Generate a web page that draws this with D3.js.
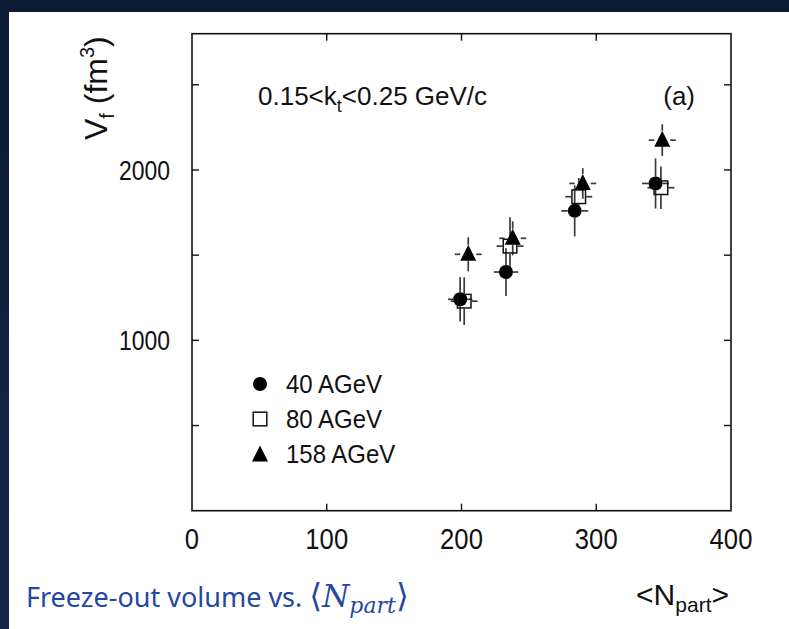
<!DOCTYPE html>
<html>
<head>
<meta charset="utf-8">
<script src="https://cdn.jsdelivr.net/npm/d3@7/dist/d3.min.js"></script>
<style>
  html, body { margin: 0; padding: 0; background: #0f1e3a; }
  svg { display: block; }
</style>
</head>
<body>
<svg id="chart" width="789" height="629"></svg>
<script>
// ---- data ----
const npart40  = [199, 233, 284, 344];
const v40      = [1241, 1401, 1760, 1921];
const errV40   = [130, 140, 150, 147];
const errN40   = [9, 9, 10, 10];

const npart80  = [202, 236, 287, 348];
const v80      = [1230, 1553, 1843, 1896];
const errV80   = [140, 170, 110, 125];
const errN80   = [10, 10, 10, 10];

const npart158 = [205, 238, 290, 349];
const v158     = [1505, 1599, 1921, 2175];
const errV158  = [100, 100, 90, 93];
const errN158  = [10, 10, 10, 10];

const seriesNames = ["40 AGeV", "80 AGeV", "158 AGeV"];
const xTicks = [0, 100, 200, 300, 400];
const xInnerTicks = [100, 200, 300];
const yTickLabels = [1000, 2000];
const yInnerTicks = [500, 1000, 1500, 2000, 2500];

// ---- layout ----
const svg = d3.select("#chart");
const W = 789, H = 629;
const FONT = "'Liberation Sans', Arial, Helvetica, sans-serif";

const defs = svg.append("defs");
const grad = defs.append("linearGradient").attr("id", "bg").attr("x1", 0).attr("y1", 0).attr("x2", 0).attr("y2", 1);
grad.append("stop").attr("offset", "0%").attr("stop-color", "#0c1a34");
grad.append("stop").attr("offset", "100%").attr("stop-color", "#11284b");
svg.append("rect").attr("width", W).attr("height", H).attr("fill", "url(#bg)");
svg.append("rect").attr("x", 9).attr("y", 12).attr("width", W - 9).attr("height", H - 12).attr("fill", "#ffffff");

const x = d3.scaleLinear().domain([0, 400]).range([192, 731]);
const y = d3.scaleLinear().domain([0, 2800]).range([510.7, 33.7]);

const g = svg.append("g");

// frame
g.append("rect")
  .attr("x", x(0)).attr("y", y(2800))
  .attr("width", x(400) - x(0)).attr("height", y(0) - y(2800))
  .attr("fill", "none").attr("stroke", "#111").attr("stroke-width", 1.6);

const TL = 7;
xInnerTicks.forEach(t => {
  g.append("line").attr("x1", x(t)).attr("x2", x(t)).attr("y1", y(0)).attr("y2", y(0) - TL)
    .attr("stroke", "#111").attr("stroke-width", 1.4);
  g.append("line").attr("x1", x(t)).attr("x2", x(t)).attr("y1", y(2800)).attr("y2", y(2800) + TL)
    .attr("stroke", "#111").attr("stroke-width", 1.4);
});
yInnerTicks.forEach(t => {
  g.append("line").attr("x1", x(0)).attr("x2", x(0) + TL).attr("y1", y(t)).attr("y2", y(t))
    .attr("stroke", "#111").attr("stroke-width", 1.4);
  g.append("line").attr("x1", x(400)).attr("x2", x(400) - TL).attr("y1", y(t)).attr("y2", y(t))
    .attr("stroke", "#111").attr("stroke-width", 1.4);
});

// tick labels (glyphs in the reference are slightly tall/narrow)
g.selectAll(".xl").data(xTicks).enter().append("text")
  .attr("transform", d => `translate(${x(d)},549) scale(0.95,1.08)`)
  .attr("text-anchor", "middle")
  .style("font-family", FONT).style("font-size", "27px").attr("fill", "#111")
  .text(d => d);
g.selectAll(".yl").data(yTickLabels).enter().append("text")
  .attr("transform", d => `translate(170,${y(d)}) scale(0.85,1.0)`)
  .attr("dy", "0.36em")
  .attr("text-anchor", "end")
  .style("font-family", FONT).style("font-size", "27px").attr("fill", "#111")
  .text(d => d);

// y title
const yt = g.append("text")
  .attr("transform", "translate(107,140) rotate(-90)")
  .attr("text-anchor", "start")
  .style("font-family", FONT).style("font-size", "32px").attr("fill", "#111");
yt.append("tspan").text("V");
yt.append("tspan").attr("dy", 7).style("font-size", "20px").text("f");
yt.append("tspan").attr("dy", -7).text(" (fm");
yt.append("tspan").attr("dy", -13).style("font-size", "20px").text("3");
yt.append("tspan").attr("dy", 13).text(")");

// x title
const xt = g.append("text")
  .attr("x", 729).attr("y", 605)
  .attr("text-anchor", "end")
  .style("font-family", FONT).style("font-size", "30px").attr("fill", "#111");
xt.append("tspan").text("<N");
xt.append("tspan").attr("dy", 7).style("font-size", "21px").text("part");
xt.append("tspan").attr("dy", -7).text(">");

// annotation
const ann = g.append("text")
  .attr("x", 258).attr("y", 105)
  .style("font-family", FONT).style("font-size", "26px").attr("fill", "#111");
ann.append("tspan").text("0.15<k");
ann.append("tspan").attr("dy", 7).style("font-size", "18px").text("t");
ann.append("tspan").attr("dy", -7).text("<0.25 GeV/c");
g.append("text").attr("x", 695).attr("y", 105).attr("text-anchor", "end")
  .style("font-family", FONT).style("font-size", "26px").attr("fill", "#111").text("(a)");

// ---- markers ----
function drawMarker(sel, type, cx, cy) {
  if (type === 0) {
    sel.append("circle").attr("cx", cx).attr("cy", cy).attr("r", 7).attr("fill", "#000");
  } else if (type === 1) {
    sel.append("rect").attr("x", cx - 6.8).attr("y", cy - 6.8).attr("width", 13.6).attr("height", 13.6)
      .attr("fill", "none").attr("stroke", "#111").attr("stroke-width", 1.5);
  } else {
    sel.append("path")
      .attr("d", `M${cx},${cy - 9.5} L${cx + 8},${cy + 6.5} L${cx - 8},${cy + 6.5} Z`)
      .attr("fill", "#000");
  }
}
const halfSize = [7, 7.5, 8];

const series = [
  { n: npart40, v: v40, ev: errV40, en: errN40 },
  { n: npart80, v: v80, ev: errV80, en: errN80 },
  { n: npart158, v: v158, ev: errV158, en: errN158 }
];

const errG = g.append("g").attr("stroke", "#3a3a3a").attr("stroke-width", 1.7);
series.forEach((s, k) => {
  const h = halfSize[k];
  s.n.forEach((n, i) => {
    const cx = x(n), cy = y(s.v[i]);
    const yTop = y(s.v[i] + s.ev[i]), yBot = y(s.v[i] - s.ev[i]);
    const xL = x(n - s.en[i]), xR = x(n + s.en[i]);
    const vTop = k === 2 ? 9.5 : h, vBot = k === 2 ? 6.5 : h;
    errG.append("line").attr("x1", cx).attr("x2", cx).attr("y1", yTop).attr("y2", cy - vTop);
    errG.append("line").attr("x1", cx).attr("x2", cx).attr("y1", cy + vBot).attr("y2", yBot);
    errG.append("line").attr("x1", xL).attr("x2", cx - h).attr("y1", cy).attr("y2", cy);
    errG.append("line").attr("x1", cx + h).attr("x2", xR).attr("y1", cy).attr("y2", cy);
  });
});
const mG = g.append("g");
series.forEach((s, k) => {
  s.n.forEach((n, i) => drawMarker(mG, k, x(n), y(s.v[i])));
});

// legend
const legY = [384, 419, 454];
seriesNames.forEach((name, k) => {
  drawMarker(g, k, 260, legY[k] + (k === 2 ? 1 : 0));
  g.append("text")
    .attr("transform", `translate(286,${legY[k]}) scale(1,1.08)`)
    .attr("dy", "0.36em")
    .style("font-family", FONT).style("font-size", "24px").attr("fill", "#111").text(name);
});

// caption
const cap = svg.append("text")
  .attr("x", 26).attr("y", 607)
  .style("font-family", "'Noto Sans', 'Open Sans', sans-serif").style("font-size", "27px")
  .attr("fill", "#2546a3");
cap.append("tspan").text("Freeze-out volume vs. ");
cap.append("tspan").style("font-family", "'DejaVu Serif', serif").style("font-size", "33px").text("\u27E8");
cap.append("tspan").style("font-family", "'DejaVu Serif', 'Liberation Serif', serif").style("font-style", "italic").style("font-size", "31px").text("N");
cap.append("tspan").attr("dy", 6).style("font-family", "'DejaVu Serif', 'Liberation Serif', serif").style("font-style", "italic").style("font-size", "22px").text("part");
cap.append("tspan").attr("dy", -6).style("font-family", "'DejaVu Serif', serif").style("font-size", "33px").text("\u27E9");
</script>
</body>
</html>
